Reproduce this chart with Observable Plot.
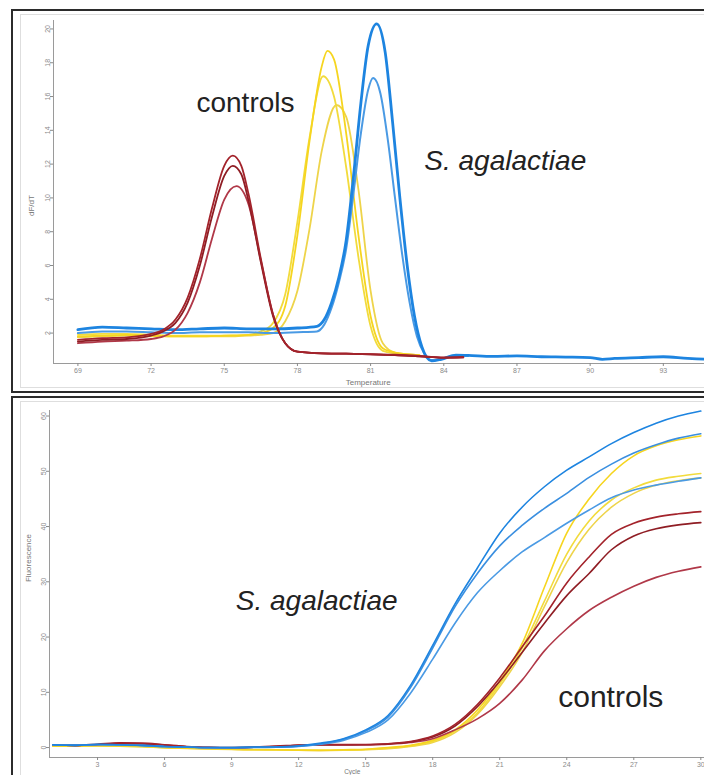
<!DOCTYPE html>
<html><head><meta charset="utf-8">
<script src="https://cdn.jsdelivr.net/npm/d3@7"></script>
<script src="https://cdn.jsdelivr.net/npm/@observablehq/plot@0.6"></script>
<style>
body{margin:0;width:704px;height:775px;overflow:hidden;position:relative;background:#fff;font-family:"Liberation Sans",Arial,sans-serif}
.frame{position:absolute;box-sizing:border-box;border:2px solid #2b2b2b}
.inner{position:absolute;box-sizing:border-box;border:1px solid #dedede}
#top,#bottom{position:absolute;width:800px}
#top{left:12px;top:10px}
#bottom{left:12px;top:398px}
</style></head><body>
<div class="frame" style="left:11px;top:9px;width:760px;height:384px;"></div>
<div class="inner" style="left:20px;top:14px;width:760px;height:374px;"></div>
<div class="frame" style="left:11px;top:396px;width:760px;height:420px;"></div>
<div class="inner" style="left:20px;top:401px;width:760px;height:420px;"></div>
<div id="top"></div><div id="bottom"></div>
<script>
// ---------- Melt curve (top) ----------
const meltTicks = [69, 72, 75, 78, 81, 84, 87, 90, 93];
const dfTicks = [2, 4, 6, 8, 10, 12, 14, 16, 18, 20];

const meltRed1 = [[69,1.6],[70,1.7],[71,1.75],[72,1.95],[72.5,2.2],[73,2.8],[73.5,4.1],[74,6.4],[74.5,9.4],[75,11.9],[75.35,12.5],[75.7,11.9],[76,10.2],[76.5,6.4],[77,3.1],[77.5,1.4],[78,0.9],[79,0.8],[80,0.78],[81,0.75],[82,0.72],[83,0.65],[84,0.55],[84.8,0.58]];
const meltRed2 = [[69,1.5],[70,1.6],[71,1.65],[72,1.85],[72.5,2.1],[73,2.6],[73.5,3.8],[74,6.0],[74.5,8.9],[75,11.3],[75.35,11.9],[75.7,11.4],[76,9.8],[76.5,6.2],[77,3.0],[77.5,1.4],[78,0.9],[79,0.8],[80,0.78],[81,0.74],[82,0.7],[83,0.63],[84,0.55],[84.8,0.57]];
const meltRed3 = [[69,1.4],[70,1.5],[71,1.55],[72,1.65],[72.5,1.8],[73,2.2],[73.5,3.2],[74,5.0],[74.5,7.6],[75,9.9],[75.5,10.7],[76,9.6],[76.5,6.3],[77,3.1],[77.5,1.4],[78,0.9],[79,0.8],[80,0.78],[81,0.74],[82,0.7],[83,0.62],[84,0.55],[84.8,0.56]];

const meltYellow1 = [[69,1.8],[70,1.85],[71,1.9],[72,1.85],[73,1.8],[74,1.8],[75,1.85],[76,1.9],[76.5,2.0],[77,2.3],[77.5,3.6],[78,7.8],[78.5,13.4],[79,17.8],[79.23,18.7],[79.5,18.2],[80,13.8],[80.5,7.8],[81,3.0],[81.5,1.1],[82,0.85],[83,0.7]];
const meltYellow2 = [[69,1.9],[70,1.95],[71,1.95],[72,1.9],[73,1.85],[74,1.85],[75,1.85],[76,1.9],[76.5,2.1],[77,2.6],[77.5,4.3],[78,8.6],[78.5,13.6],[79.05,17.2],[79.5,16.0],[80,11.8],[80.5,6.5],[81,2.4],[81.5,0.95],[82,0.8],[83,0.7]];
const meltYellow3 = [[69,1.75],[70,1.8],[71,1.85],[72,1.8],[73,1.8],[74,1.8],[75,1.8],[76,1.85],[76.5,1.9],[77,2.0],[77.5,2.7],[78,4.5],[78.5,8.2],[79,12.8],[79.6,15.5],[80,14.8],[80.5,10.5],[81,4.5],[81.5,1.4],[82,0.85],[83,0.7]];

const meltBlue1 = [[69,2.2],[70,2.35],[71,2.3],[72,2.25],[73,2.2],[74,2.25],[75,2.3],[76,2.25],[77,2.25],[78,2.3],[78.8,2.4],[79.1,2.8],[79.4,3.8],[79.7,5.3],[80,7.5],[80.3,11.3],[80.6,15.6],[80.9,19.0],[81.25,20.3],[81.6,18.6],[81.9,14.5],[82.2,10.0],[82.5,6.0],[82.8,3.0],[83.1,1.2],[83.5,0.35],[83.9,0.45],[84.5,0.7],[85,0.68],[86,0.62],[87,0.65],[88,0.6],[89,0.58],[90,0.55],[90.5,0.45],[91,0.5],[92,0.55],[93,0.6],[94,0.5],[95,0.45],[96,0.45]];
const meltBlue2 = [[69,2.0],[70,2.1],[71,2.1],[72,2.05],[73,2.0],[74,2.05],[75,2.05],[76,2.05],[77,2.0],[78,2.05],[78.8,2.1],[79.1,2.5],[79.4,3.5],[79.7,5.0],[80,7.0],[80.3,10.3],[80.6,13.8],[80.9,16.4],[81.1,17.1],[81.4,16.2],[81.7,13.5],[82,10.0],[82.3,6.6],[82.6,3.8],[82.9,1.8],[83.2,0.8],[83.5,0.4],[83.9,0.5],[84.5,0.65],[85,0.65]];

// ---------- Amplification (bottom) ----------
const cycleTicks = [3, 6, 9, 12, 15, 18, 21, 24, 27, 30];
const fluorTicks = [0, 10, 20, 30, 40, 50, 60];
const cycles = [1,2,3,4,5,6,7,8,9,10,11,12,13,14,15,16,17,18,19,20,21,22,23,24,25,26,27,28,29,30];

const ampBlue1 = [0.5,0.4,0.6,0.5,0.4,0.2,0.1,0.0,0.0,0.1,0.1,0.3,0.8,1.6,3.2,5.8,11.2,18.5,26.0,32.5,38.8,43.5,47.2,50.2,52.6,55.0,57.0,58.7,60.0,60.9];
const ampBlue2 = [0.5,0.45,0.55,0.5,0.4,0.2,0.1,0.0,0.0,0.05,0.1,0.25,0.7,1.5,3.0,5.5,10.8,18.0,25.5,31.5,36.5,40.2,43.3,46.0,48.9,51.3,53.3,54.8,56.0,56.8];
const ampBlue3 = [0.45,0.4,0.5,0.45,0.35,0.15,0.05,-0.05,-0.05,0.0,0.05,0.2,0.6,1.3,2.7,5.0,9.8,16.0,22.5,28.0,32.0,35.4,38.0,40.6,43.0,45.2,46.6,47.5,48.2,48.8];

const ampYellow1 = [0.3,0.3,0.4,0.3,0.2,0.0,-0.1,-0.2,-0.3,-0.4,-0.4,-0.5,-0.5,-0.4,-0.3,0.0,0.4,1.3,3.2,6.8,12.0,18.8,29.0,38.8,45.0,49.6,52.8,54.6,55.7,56.4];
const ampYellow2 = [0.3,0.3,0.35,0.3,0.2,0.0,-0.1,-0.2,-0.3,-0.35,-0.4,-0.45,-0.5,-0.45,-0.35,-0.1,0.3,1.1,3.0,6.3,11.5,18.0,26.5,35.0,41.0,44.8,47.0,48.4,49.1,49.6];
const ampYellow3 = [0.25,0.25,0.3,0.25,0.15,-0.05,-0.15,-0.25,-0.35,-0.4,-0.45,-0.5,-0.55,-0.5,-0.4,-0.2,0.2,0.9,2.7,6.0,11.0,17.2,25.5,33.5,39.5,43.5,46.0,47.5,48.3,48.8];

const ampRed1 = [0.5,0.4,0.6,0.85,0.8,0.5,0.2,0.05,0.0,0.1,0.25,0.45,0.55,0.55,0.55,0.7,1.1,2.1,4.2,7.8,12.6,18.2,23.8,29.8,34.5,38.6,40.6,41.7,42.3,42.7];
const ampRed2 = [0.5,0.4,0.55,0.75,0.7,0.45,0.15,0.0,-0.05,0.05,0.2,0.4,0.5,0.5,0.5,0.65,1.0,1.9,3.9,7.4,12.0,17.2,22.5,27.5,31.5,35.8,38.3,39.6,40.3,40.7];
const ampRed3 = [0.45,0.4,0.5,0.7,0.65,0.4,0.15,0.0,-0.05,0.05,0.2,0.35,0.45,0.45,0.5,0.6,0.9,1.6,3.2,5.2,8.0,12.2,17.5,21.5,24.8,27.2,29.2,30.8,31.9,32.7];

// ---------- styles ----------
const RED = ["#a3232b", "#8f1d24", "#b03848"];
const YEL = ["#f6d51f", "#f2db3c", "#eed44a"];
const BLU = ["#1d84e0", "#3a8fe0", "#4a9ae4"];
const FONT = '"Liberation Sans", Arial, sans-serif';
const AX = "#8a8a8a";

const pairRows = (pts) => pts.map(([x, y]) => ({x, y}));
const cycleRows = (vals) => cycles.map((c, i) => ({x: c, y: vals[i]}));
const line = (rows, color, w) => Plot.line(rows, {x: "x", y: "y", stroke: color, strokeWidth: w, curve: "monotone-x"});

const topPlot = Plot.plot({
  width: 724, height: 382,
  marginLeft: 41, marginRight: 0, marginTop: 10, marginBottom: 29,
  x: {domain: [68, 96]},
  y: {domain: [0.2, 20.5]},
  style: {background: "transparent", fontFamily: FONT, maxWidth: "none", overflow: "visible"},
  marks: [
    Plot.ruleX([68], {stroke: "#9a9a9a"}),
    Plot.ruleY([0.2], {stroke: "#9a9a9a"}),
    Plot.axisX({ticks: meltTicks, tickSize: 3, tickPadding: 2, fontSize: 7, color: AX, label: null}),
    Plot.axisY({ticks: dfTicks, tickSize: 3, tickPadding: 1, tickRotate: -90, fontSize: 7, color: AX, label: null}),
    line(pairRows(meltYellow3), YEL[2], 1.8),
    line(pairRows(meltYellow2), YEL[1], 1.8),
    line(pairRows(meltYellow1), YEL[0], 1.8),
    line(pairRows(meltBlue2), BLU[2], 2),
    line(pairRows(meltBlue1), BLU[0], 2.8),
    line(pairRows(meltRed3), RED[2], 1.8),
    line(pairRows(meltRed2), RED[1], 1.8),
    line(pairRows(meltRed1), RED[0], 1.8),
    Plot.text(["controls"], {text: d => d, x: 75.87, y: 15.6, fontSize: 28, fill: "#222", fontFamily: FONT}),
    Plot.text(["S. agalactiae"], {text: d => d, x: 86.52, y: 12.2, fontSize: 28, fontStyle: "italic", fill: "#222", fontFamily: FONT}),
    Plot.text(["Temperature"], {text: d => d, x: 80.9, y: -0.92, fontSize: 8, fill: "#777", fontFamily: FONT}),
    Plot.text(["dF/dT"], {text: d => d, x: 67.1, y: 9.55, rotate: -90, fontSize: 8, fill: "#777", fontFamily: FONT})
  ]
});
document.getElementById("top").append(topPlot);

const bottomPlot = Plot.plot({
  width: 733, height: 400,
  marginLeft: 37, marginRight: 0, marginTop: 12, marginBottom: 41,
  x: {domain: [0.85, 32]},
  y: {domain: [-1.8, 61]},
  style: {background: "transparent", fontFamily: FONT, maxWidth: "none", overflow: "visible"},
  marks: [
    Plot.ruleX([0.85], {stroke: "#9a9a9a"}),
    Plot.ruleY([-1.8], {stroke: "#9a9a9a"}),
    Plot.axisX({ticks: cycleTicks, tickSize: 3, tickPadding: 2, fontSize: 7, color: AX, label: null}),
    Plot.axisY({ticks: fluorTicks, tickSize: 3, tickPadding: 1, tickRotate: -90, fontSize: 7, color: AX, label: null}),
    line(cycleRows(ampYellow3), YEL[2], 1.6),
    line(cycleRows(ampYellow2), YEL[1], 1.6),
    line(cycleRows(ampYellow1), YEL[0], 1.6),
    line(cycleRows(ampRed3), RED[2], 1.6),
    line(cycleRows(ampRed2), RED[1], 1.6),
    line(cycleRows(ampRed1), RED[0], 1.6),
    line(cycleRows(ampBlue3), BLU[2], 1.6),
    line(cycleRows(ampBlue2), BLU[1], 1.6),
    line(cycleRows(ampBlue1), BLU[0], 1.6),
    Plot.text(["S. agalactiae"], {text: d => d, x: 12.81, y: 26.6, fontSize: 28, fontStyle: "italic", fill: "#222", fontFamily: FONT}),
    Plot.text(["controls"], {text: d => d, x: 25.97, y: 9.0, fontSize: 30, fill: "#222", fontFamily: FONT}),
    Plot.text(["Cycle"], {text: d => d, x: 14.4, y: -4.45, fontSize: 6.5, fill: "#777", fontFamily: FONT}),
    Plot.text(["Fluorescence"], {text: d => d, x: -0.09, y: 34.3, rotate: -90, fontSize: 8, fill: "#777", fontFamily: FONT})
  ]
});
document.getElementById("bottom").append(bottomPlot);
</script>
</body></html>
